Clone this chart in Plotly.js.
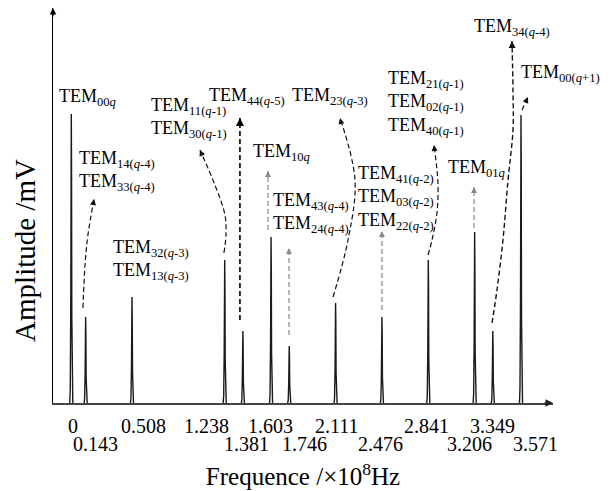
<!DOCTYPE html>
<html>
<head>
<meta charset="utf-8">
<script src="https://cdn.plot.ly/plotly-3.0.1.min.js"></script>
<style>html,body{margin:0;padding:0;background:#fff;}#chart{width:614px;height:491px;}</style>
</head>
<body>
<div id="chart"></div>
<script>
// ---- data ----
const peakFreq = [0.03, 0.143, 0.508, 1.238, 1.381, 1.603, 1.746, 2.111, 2.476, 2.841, 3.206, 3.349, 3.571];
const peakAmp  = [2.89, 0.86, 1.06, 1.43, 0.72, 1.66, 0.57, 1.00, 0.86, 1.43, 1.71, 0.72, 2.88];

const tickTopText    = ["0", "0.508", "1.238", "1.603", "2.111", "2.841", "3.349"];
const tickBottomText = ["0.143", "1.381", "1.746", "2.476", "3.206", "3.571"];
// label centres (axis units)
const tickTopPos    = [0.041, 0.602, 1.091, 1.602, 2.122, 2.823, 3.343];
const tickBottomPos = [0.224, 1.413, 1.870, 2.461, 3.169, 3.689];

const modeLabels = [
  "TEM<sub>00<i>q</i></sub>",
  "TEM<sub>14(<i>q</i>-4)</sub><br>TEM<sub>33(<i>q</i>-4)</sub>",
  "TEM<sub>32(<i>q</i>-3)</sub><br>TEM<sub>13(<i>q</i>-3)</sub>",
  "TEM<sub>11(<i>q</i>-1)</sub><br>TEM<sub>30(<i>q</i>-1)</sub>",
  "TEM<sub>44(<i>q</i>-5)</sub>",
  "TEM<sub>23(<i>q</i>-3)</sub>",
  "TEM<sub>10<i>q</i></sub>",
  "TEM<sub>43(<i>q</i>-4)</sub><br>TEM<sub>24(<i>q</i>-4)</sub>",
  "TEM<sub>41(<i>q</i>-2)</sub><br>TEM<sub>03(<i>q</i>-2)</sub><br>TEM<sub>22(<i>q</i>-2)</sub>",
  "TEM<sub>21(<i>q</i>-1)</sub><br>TEM<sub>02(<i>q</i>-1)</sub><br>TEM<sub>40(<i>q</i>-1)</sub>",
  "TEM<sub>01<i>q</i></sub>",
  "TEM<sub>34(<i>q</i>-4)</sub>",
  "TEM<sub>00(<i>q</i>+1)</sub>"
];
const labelX = [-0.085, 0.073, 0.340, 0.640, 1.096, 1.750, 1.443, 1.600, 2.270, 2.506, 2.978, 3.183, 3.553];
const labelY = [3.06, 2.325, 1.435, 2.855, 3.07, 3.07, 2.51, 1.90, 2.05, 3.00, 2.35, 3.76, 3.30];

// leader arrows (path from peak toward label), colour
const arrows = [
  {x:[0.122,0.138,0.161,0.209], y:[0.95,1.38,1.68,2.04], c:"#111", w:1.2},
  {x:[1.232,1.248,1.240,1.161,1.043], y:[1.50,1.68,1.88,2.18,2.53], c:"#111", w:1.2},
  {x:[1.358,1.358], y:[0.83,2.85], c:"#000", w:1.6},
  {x:[2.091,2.209,2.264,2.146], y:[1.06,1.63,2.23,2.85], c:"#111", w:1.2},
  {x:[1.579,1.579], y:[1.73,2.32], c:"#888", w:1.2},
  {x:[1.744,1.744], y:[0.68,1.55], c:"#888", w:1.2},
  {x:[2.476,2.476], y:[0.93,1.72], c:"#888", w:1.2},
  {x:[2.839,2.870,2.909,2.917,2.886], y:[1.48,1.63,1.90,2.20,2.58], c:"#111", w:1.2},
  {x:[3.201,3.201], y:[1.75,2.16], c:"#888", w:1.2},
  {x:[3.343,3.382,3.429,3.469,3.508,3.508,3.500], y:[0.80,1.13,1.63,2.23,2.73,3.13,3.62], c:"#111", w:1.4},
  {x:[3.579,3.626], y:[2.93,3.06], c:"#111", w:1.2}
];

const xRange = [-0.114, 3.823];
const yRange = [0, 3.95];
const FONT = "Liberation Serif, Times New Roman, serif";

// ---- build spectrum trace ----
const sx = [], sy = [];
const off = [-0.012, -0.008, -0.004, -0.002, 0, 0.002, 0.004, 0.008, 0.012];
const fr  = [0, 0.05, 0.35, 0.6, 1, 0.8, 0.3, 0.05, 0];
peakFreq.forEach((f, i) => {
  off.forEach((o, k) => { sx.push(f + o); sy.push(peakAmp[i] * fr[k]); });
  sx.push(null); sy.push(null);
});
const traces = [{
  x: sx, y: sy, type: "scatter", mode: "lines",
  line: {color: "#1a1a1a", width: 1.4}, hoverinfo: "skip", showlegend: false, cliponaxis: false
}];

const W = 614, H = 491, M = {l:53, r:61, t:8, b:88};
const pxX = (W - M.l - M.r) / (xRange[1] - xRange[0]);
const pxY = (H - M.t - M.b) / (yRange[1] - yRange[0]);

const annotations = [];
arrows.forEach(a => {
  traces.push({x: a.x, y: a.y, type: "scatter", mode: "lines",
    line: {color: a.c, width: a.w, dash: "5px,3px", shape: "spline", smoothing: 1},
    hoverinfo: "skip", showlegend: false, cliponaxis: false});
  const n = a.x.length;
  const dx = (a.x[n-1] - a.x[n-2]) * pxX, dy = -(a.y[n-1] - a.y[n-2]) * pxY;
  const L = Math.hypot(dx, dy);
  annotations.push({x: a.x[n-1], y: a.y[n-1], xref: "x", yref: "y", text: "",
    showarrow: true, arrowhead: 2, arrowsize: 1, arrowwidth: a.w, arrowcolor: a.c,
    ax: -dx / L * 7, ay: -dy / L * 7, standoff: 0});
});

modeLabels.forEach((t, i) => {
  annotations.push({x: labelX[i], y: labelY[i], xref: "x", yref: "y", text: t,
    showarrow: false, xanchor: "left", yanchor: "middle", align: "left",
    font: {family: FONT, size: 18, color: "#000"}});
});

tickTopText.forEach((t, i) => annotations.push({x: tickTopPos[i], y: -0.058, xref: "x", yref: "paper",
  text: t, showarrow: false, xanchor: "center", yanchor: "middle", font: {family: FONT, size: 20, color: "#000"}}));
tickBottomText.forEach((t, i) => annotations.push({x: tickBottomPos[i], y: -0.104, xref: "x", yref: "paper",
  text: t, showarrow: false, xanchor: "center", yanchor: "middle", font: {family: FONT, size: 20, color: "#000"}}));

// axis arrowheads
annotations.push({x: 0, y: 1, xref: "paper", yref: "paper", text: "", showarrow: true, arrowhead: 2,
  arrowsize: 1, arrowwidth: 1.3, arrowcolor: "#000", ax: 0, ay: 10, standoff: 0});
annotations.push({x: 1, y: 0, xref: "paper", yref: "paper", text: "", showarrow: true, arrowhead: 2,
  arrowsize: 1, arrowwidth: 1.5, arrowcolor: "#222", ax: -10, ay: 0, standoff: 0});

// y title
annotations.push({x: -0.056, y: 0.385, xref: "paper", yref: "paper", text: "Amplitude /mV",
  textangle: -90, showarrow: false, xanchor: "center", yanchor: "middle",
  font: {family: FONT, size: 29, color: "#000"}});

const layout = {
  width: W, height: H, margin: M,
  paper_bgcolor: "#fff", plot_bgcolor: "#fff",
  font: {family: FONT, color: "#000"},
  showlegend: false,
  xaxis: {range: xRange, showgrid: false, zeroline: false, showticklabels: false, ticks: "",
    showline: true, linecolor: "#444", linewidth: 1.5, fixedrange: true,
    title: {text: "Frequence /×10<sup>8</sup>Hz", font: {family: FONT, size: 25, color: "#000"}, standoff: 64}},
  yaxis: {range: yRange, showgrid: false, zeroline: false, showticklabels: false, ticks: "",
    showline: true, linecolor: "#000", linewidth: 1.3, fixedrange: true},
  annotations: annotations
};

Plotly.newPlot("chart", traces, layout, {staticPlot: true, displayModeBar: false});
</script>
</body>
</html>
